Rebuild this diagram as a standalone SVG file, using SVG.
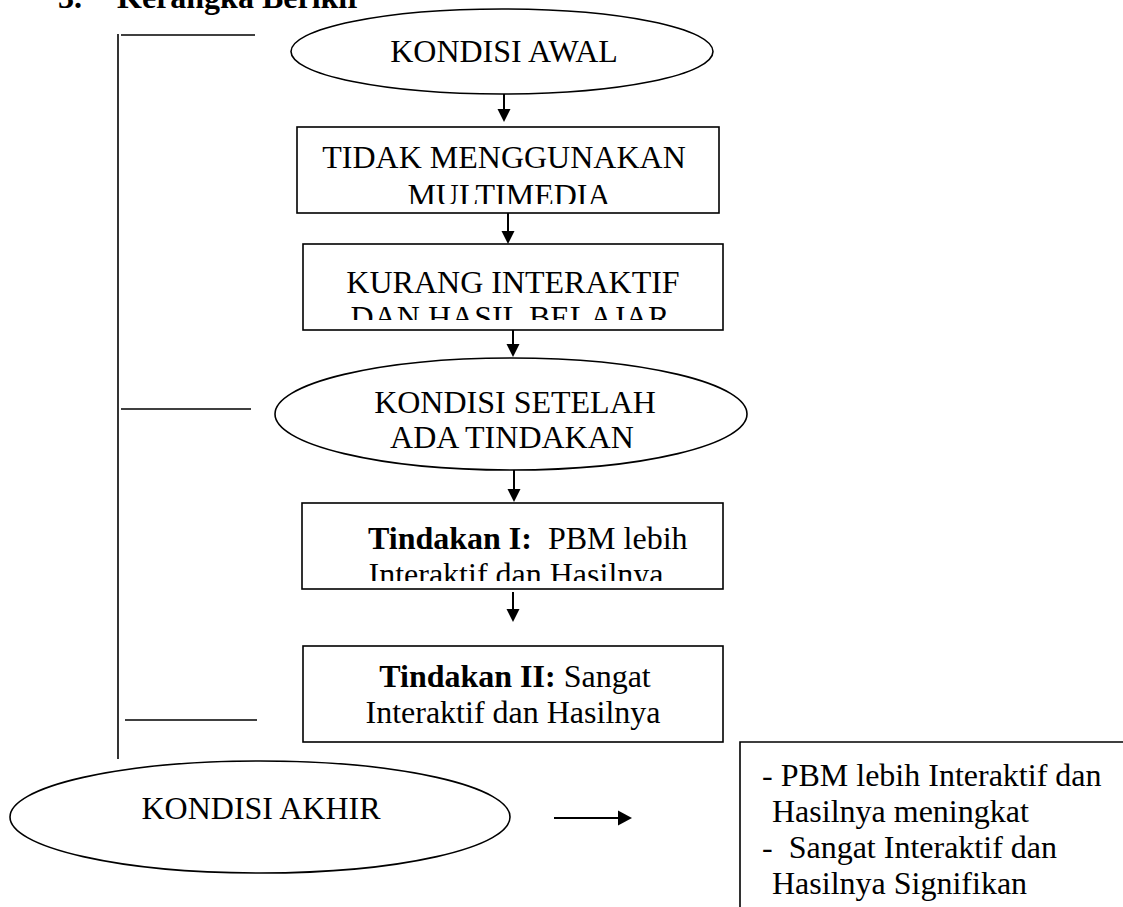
<svg xmlns="http://www.w3.org/2000/svg" width="1123" height="907" viewBox="0 0 1123 907">
<style>
  .t { font-family: "Liberation Serif", "Times New Roman", serif; font-size: 32px; fill: #000; }
  .b { font-weight: bold; }
  .shape { fill: #fff; stroke: #000; stroke-width: 1.6; }
  .ln { fill: none; stroke: #000; stroke-width: 1.6; }
  .ar { fill: none; stroke: #000; stroke-width: 2; }
  .hd { fill: #000; stroke: none; }
</style>
<defs>
  <clipPath id="c1"><rect x="298" y="128" width="420" height="76"/></clipPath>
  <clipPath id="c2"><rect x="304" y="245" width="418" height="75"/></clipPath>
  <clipPath id="c3"><rect x="303" y="504" width="419" height="77"/></clipPath>
</defs>
<rect width="1123" height="907" fill="#fff"/>

<g id="title">
  <text class="t b" x="58" y="8">3.</text>
  <text class="t b" x="117" y="8">Kerangka Berikir</text>
</g>

<g id="connectors">
  <line class="ln" x1="118" y1="34" x2="118" y2="759"/>
  <line class="ln" x1="121" y1="35" x2="255" y2="35"/>
  <line class="ln" x1="121" y1="409" x2="251" y2="409"/>
  <line class="ln" x1="125" y1="720" x2="257" y2="720"/>

  <line class="ar" x1="504" y1="94" x2="504" y2="110"/>
  <polygon class="hd" points="497.5,109 510.5,109 504,122"/>
  <line class="ar" x1="508" y1="213" x2="508" y2="232"/>
  <polygon class="hd" points="501.5,231 514.5,231 508,244"/>
  <line class="ar" x1="513" y1="330" x2="513" y2="345"/>
  <polygon class="hd" points="506.5,344 519.5,344 513,357"/>
  <line class="ar" x1="514" y1="470" x2="514" y2="490"/>
  <polygon class="hd" points="507.5,489 520.5,489 514,502"/>
  <line class="ar" x1="513" y1="592" x2="513" y2="610"/>
  <polygon class="hd" points="506.5,609 519.5,609 513,622"/>
  <line class="ar" x1="554" y1="818" x2="619" y2="818"/>
  <polygon class="hd" points="618,810.5 618,825.5 632,818"/>
</g>

<g id="kondisi-awal">
  <ellipse class="shape" cx="502" cy="51.5" rx="211" ry="42.5"/>
  <text class="t" x="504" y="62" text-anchor="middle">KONDISI AWAL</text>
</g>

<g id="tidak-menggunakan">
  <rect class="shape" x="297" y="127" width="422" height="86"/>
  <g clip-path="url(#c1)">
    <text class="t" x="504" y="168" text-anchor="middle">TIDAK MENGGUNAKAN</text>
    <text class="t" x="509" y="206" text-anchor="middle">MULTIMEDIA</text>
  </g>
</g>

<g id="kurang-interaktif">
  <rect class="shape" x="303" y="244" width="420" height="86"/>
  <g clip-path="url(#c2)">
    <text class="t" x="513" y="293" text-anchor="middle">KURANG INTERAKTIF</text>
    <text class="t" x="510" y="328" text-anchor="middle">DAN HASIL BELAJAR</text>
  </g>
</g>

<g id="kondisi-setelah">
  <ellipse class="shape" cx="511" cy="414" rx="236" ry="56"/>
  <text class="t" x="515" y="413" text-anchor="middle">KONDISI SETELAH</text>
  <text class="t" x="512" y="448" text-anchor="middle">ADA TINDAKAN</text>
</g>

<g id="tindakan-1">
  <rect class="shape" x="302" y="503" width="421" height="86"/>
  <g clip-path="url(#c3)">
    <text class="t" x="368" y="549" xml:space="preserve"><tspan class="b">Tindakan I:</tspan>  PBM lebih</text>
    <text class="t" x="516" y="585" text-anchor="middle">Interaktif dan Hasilnya</text>
  </g>
</g>

<g id="tindakan-2">
  <rect class="shape" x="303" y="646" width="420" height="96"/>
  <text class="t" x="515" y="687" text-anchor="middle"><tspan class="b">Tindakan II:</tspan> Sangat</text>
  <text class="t" x="513" y="723" text-anchor="middle">Interaktif dan Hasilnya</text>
</g>

<g id="kondisi-akhir">
  <ellipse class="shape" cx="260" cy="817" rx="250" ry="56"/>
  <text class="t" x="261" y="819" text-anchor="middle">KONDISI AKHIR</text>
</g>

<g id="hasil">
  <path class="ln" d="M740 907 V742 H1123"/>
  <text class="t" x="762" y="786">- PBM lebih Interaktif dan</text>
  <text class="t" x="772" y="822">Hasilnya meningkat</text>
  <text class="t" x="762" y="858" xml:space="preserve">-  Sangat Interaktif dan</text>
  <text class="t" x="772" y="894">Hasilnya Signifikan</text>
</g>
</svg>
